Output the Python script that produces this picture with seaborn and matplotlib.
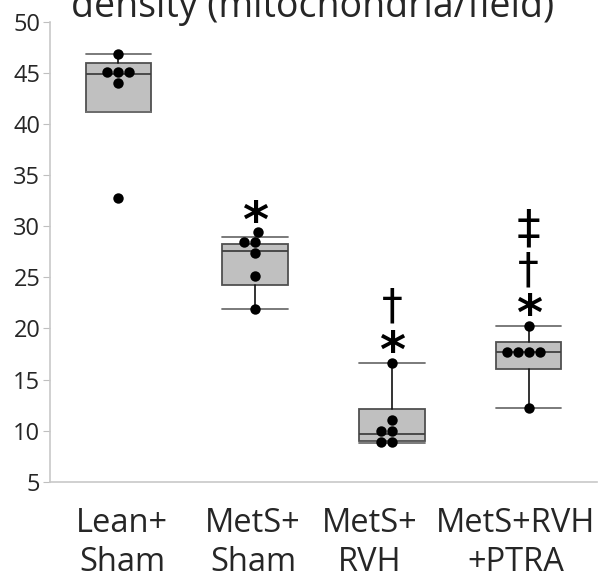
import numpy as np
import pandas as pd
import matplotlib
matplotlib.use("Agg")
import matplotlib.pyplot as plt
from matplotlib.textpath import TextPath
from matplotlib.font_manager import FontProperties
from matplotlib.transforms import ScaledTranslation
import seaborn as sns

# ---- data ----
groups = ["Lean+\nSham", "MetS+\nSham", "MetS+\nRVH", "MetS+RVH\n+PTRA"]
points = [
    [46.9, 45.1, 45.1, 45.1, 44.0, 32.75],
    [29.42, 28.44, 28.44, 27.37, 25.12, 21.95],
    [16.66, 11.06, 10.01, 10.01, 8.93, 8.93],
    [20.25, 17.68, 17.68, 17.68, 17.68, 12.26],
]
q1s = [41.16, 24.24, 8.97, 16.02]
meds = [44.9, 27.6, 9.69, 17.68]
q3s = [45.96, 28.3, 12.13, 18.66]
whislos = [41.16, 21.95, 8.78, 12.26]
whishis = [46.9, 28.93, 16.66, 20.25]
sig_marks = [[], ["*"], ["*", "\u2020"], ["*", "\u2020", "\u2021"]]
yticks = [5, 10, 15, 20, 25, 30, 35, 40, 45, 50]
title = "density (mitochondria/field)"

df = pd.DataFrame({
    "group": [g for g, vals in zip(groups, points) for _ in vals],
    "value": [v for vals in points for v in vals],
})

sns.set_style("ticks")
plt.rcParams["font.family"] = ["Open Sans", "DejaVu Sans"]

fig = plt.figure(figsize=(6.03, 5.81), dpi=100)
ax = fig.add_axes([50 / 603, 1 - 481.7 / 581, 547 / 603, (481.7 - 22) / 581])

stats = [
    dict(med=m, q1=a, q3=b, whislo=lo, whishi=hi, fliers=[])
    for m, a, b, lo, hi in zip(meds, q1s, q3s, whislos, whishis)
]
ax.bxp(
    stats, positions=range(len(groups)), widths=0.48, patch_artist=True,
    manage_ticks=False, showfliers=False,
    boxprops=dict(facecolor="#c0c0c0", edgecolor="#505050", linewidth=1.3),
    medianprops=dict(color="#404040", linewidth=1.3),
    whiskerprops=dict(color="#111111", linewidth=1.2),
    capprops=dict(color="#707070", linewidth=1.3),
    capwidths=0.48,
)

sns.swarmplot(data=df, x="group", y="value", order=groups, color="black",
              size=7.5, ax=ax, zorder=5)

# significance marks, stacked above each group's highest point
mark_style = {"*": (36, "bold"), "\u2020": (30, "normal"), "\u2021": (34, "normal")}
mark_gap_px = [21, 57, 98]
for i, (marks, vals) in enumerate(zip(sig_marks, points)):
    top = max(vals)
    for k, m in enumerate(marks):
        fs, wt = mark_style[m]
        prop = FontProperties(family="DejaVu Sans", weight=wt)
        ext = TextPath((0, 0), m, size=fs, prop=prop).get_extents()
        center_px = (ext.y0 + ext.y1) / 2 * fig.dpi / 72.0
        ax.annotate(m, xy=(i, top), xytext=(0, mark_gap_px[k] - center_px),
                    textcoords="offset pixels", ha="center", va="baseline",
                    fontsize=fs, fontweight=wt, color="black",
                    family=["DejaVu Sans"])

ax.set_xlim(-0.5, len(groups) - 0.5)
ax.set_ylim(5, 50)
ax.set_yticks(yticks)
ax.set_xticks(range(len(groups)))
ax.set_xticklabels(groups, fontsize=23.5, linespacing=1.25)
ax.tick_params(axis="y", labelsize=17, length=5, color="#bfbfbf", pad=2)
ax.tick_params(axis="x", length=0, pad=18)
ax.set_xlabel("")
ax.set_ylabel("")
# the original's category labels sit slightly off the box centres
label_shift_px = [4, -2, -22, -13]
for lab, dx in zip(ax.get_xticklabels(), label_shift_px):
    lab.set_transform(lab.get_transform() + ScaledTranslation(dx / fig.dpi, 0, fig.dpi_scale_trans))
for s in ["top", "right"]:
    ax.spines[s].set_visible(False)
for s in ["left", "bottom"]:
    ax.spines[s].set_color("#c8c8c8")
    ax.spines[s].set_linewidth(1.2)

fig.text(0.518, 1 - 17 / 581, title, ha="center", va="baseline", fontsize=27)

fig.savefig("out.png", dpi=100)
